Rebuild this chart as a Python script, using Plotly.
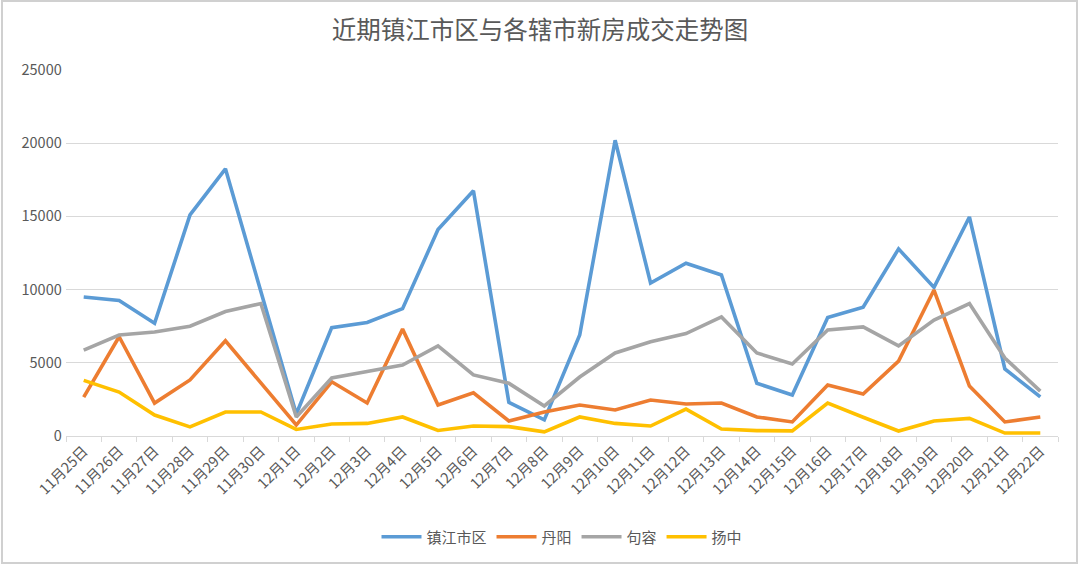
import plotly.graph_objects as go

dates = ["11月25日", "11月26日", "11月27日", "11月28日", "11月29日", "11月30日",
         "12月1日", "12月2日", "12月3日", "12月4日", "12月5日", "12月6日", "12月7日",
         "12月8日", "12月9日", "12月10日", "12月11日", "12月12日", "12月13日",
         "12月14日", "12月15日", "12月16日", "12月17日", "12月18日", "12月19日",
         "12月20日", "12月21日", "12月22日"]

zhenjiang = [9500, 9250, 7700, 15100, 18250, 9800, 1500, 7400, 7750, 8700, 14100,
             16750, 2300, 1100, 6900, 20200, 10450, 11800, 11000, 3600, 2800, 8100,
             8800, 12780, 10150, 14960, 4580, 2670]
danyang = [2650, 6780, 2250, 3830, 6500, 3600, 750, 3700, 2250, 7300, 2120, 2950,
           1030, 1640, 2120, 1780, 2460, 2190, 2250, 1300, 960, 3480, 2870, 5120,
           9970, 3410, 960, 1300]
jurong = [5870, 6900, 7100, 7500, 8500, 9050, 1300, 3960, 4400, 4850, 6150, 4170,
          3600, 2050, 4030, 5670, 6430, 7000, 8130, 5670, 4920, 7240, 7450, 6150,
          7920, 9050, 5330, 3070]
yangzhong = [3800, 3000, 1430, 620, 1640, 1640, 450, 820, 860, 1300, 380, 680,
             640, 280, 1300, 860, 680, 1840, 480, 370, 350, 2250, 1280, 340, 1030,
             1200, 200, 200]

series = [("镇江市区", zhenjiang, "#5b9bd5"),
          ("丹阳", danyang, "#ed7d31"),
          ("句容", jurong, "#a5a5a5"),
          ("扬中", yangzhong, "#ffc000")]

font_family = "Noto Sans CJK SC, Noto Sans, sans-serif"

fig = go.Figure()
for name, vals, color in series:
    fig.add_trace(go.Scatter(x=dates, y=vals, name=name, mode="lines",
                             line=dict(color=color, width=3.6)))

W, H = 1080, 565
L, R, T, B = 66, 22, 70, 129
pw, ph = W - L - R, H - T - B

fig.update_layout(
    width=W, height=H,
    margin=dict(l=L, r=R, t=T, b=B, autoexpand=False),
    paper_bgcolor="white", plot_bgcolor="white",
    font=dict(family=font_family, color="#595959"),
    title=dict(text="近期镇江市区与各辖市新房成交走势图", x=0.5, xanchor="center",
               y=1 - 30 / H, yanchor="middle",
               font=dict(size=24.5, color="#595959", family=font_family)),
    showlegend=True,
    legend=dict(orientation="h", x=0.5, xanchor="center",
                y=(436 - 537) / ph, yanchor="middle",
                font=dict(size=15, color="#595959"),
                itemwidth=40, tracegroupgap=0),
    xaxis=dict(type="category", range=[-0.5, len(dates) - 0.5],
               showgrid=False, showline=True, linecolor="#d9d9d9",
               linewidth=1, ticks="outside", tickson="boundaries", ticklen=5,
               tickcolor="#d9d9d9", tickangle=-45, automargin=False,
               tickfont=dict(size=14.5, color="#595959")),
    yaxis=dict(range=[0, 25000], dtick=5000, tickformat="d", showgrid=True,
               gridcolor="#d9d9d9", automargin=False,
               gridwidth=1, zeroline=False, showline=False, ticks="",
               tickfont=dict(size=14.5, color="#595959"), ticksuffix=" "),
)

# light frame around the chart area
fig.add_shape(type="rect", xref="paper", yref="paper",
              x0=(2 - L) / pw, x1=(1077 - L) / pw,
              y0=(436 - 563) / ph, y1=(436 - 1) / ph,
              line=dict(color="#d0d0d0", width=2), fillcolor="rgba(0,0,0,0)",
              layer="below")

fig.write_html("out.html", config={"displayModeBar": False},
               post_script="document.body.style.margin='0';document.body.style.padding='0';")
